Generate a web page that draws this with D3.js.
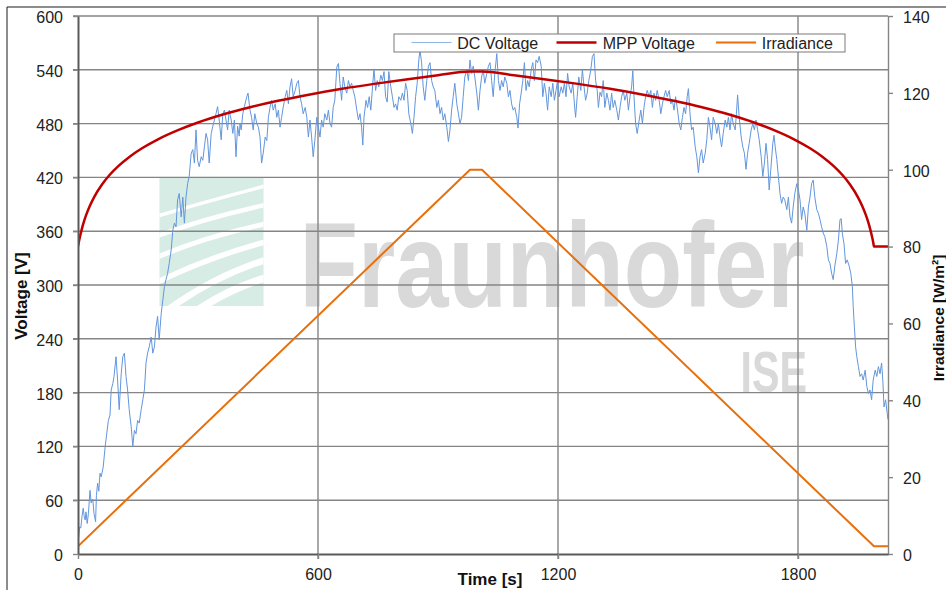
<!DOCTYPE html>
<html>
<head>
<meta charset="utf-8">
<script src="https://cdn.jsdelivr.net/npm/d3@7"></script>
<style>
  html, body { margin: 0; padding: 0; background: #fff; }
  svg { display: block; font-family: "Liberation Sans", Arial, sans-serif; }
</style>
</head>
<body>
<svg id="chart" width="946" height="590"></svg>
<script>
// ---- data ----------------------------------------------------------------
const voltTicks = [0, 60, 120, 180, 240, 300, 360, 420, 480, 540, 600];
const timeTicks = [0, 600, 1200, 1800];
const irrTicks = [0, 20, 40, 60, 80, 100, 120, 140];
const seriesNames = ["DC Voltage", "MPP Voltage", "Irradiance"];

// irradiance ramp [W/m²]
const irrTime  = [0, 980, 1010, 1990, 2025];
const irrValue = [2, 100, 100, 2, 2];

// MPP voltage [V]
const mppTime = [0, 2, 5, 10, 15, 20, 30, 40, 60, 80, 100, 130, 160, 200, 250, 300, 360, 430, 500, 580,
  660, 740, 820, 900, 980, 1010, 1090, 1170, 1250, 1330, 1410, 1490, 1560, 1630, 1690, 1740, 1790,
  1830, 1860, 1890, 1910, 1930, 1950, 1960, 1970, 1975, 1980, 1985, 1988, 1990, 2025];
const mppVolt = [343, 347.8, 354, 363.2, 370.9, 377.6, 388.7, 397.8, 412.1, 423.2, 432.3, 443.4, 452.5,
  462.5, 472.7, 481.2, 489.8, 498.2, 505.4, 512.5, 518.8, 524.3, 529.3, 533.9, 538, 538, 533.9, 529.3,
  524.3, 518.8, 512.5, 505.4, 498.2, 489.8, 481.2, 472.7, 462.5, 452.5, 443.4, 432.3, 423.2, 412.1,
  397.8, 388.7, 377.6, 370.9, 363.2, 354, 347.8, 343, 343];

// measured DC voltage [V]
const dcTime = [0, 1, 4, 7, 10, 13, 16, 18, 20, 23, 26, 30, 33, 37, 40, 44, 46, 49, 52, 55, 58, 63, 68, 72,
  76, 80, 83, 87, 90, 95, 99, 103, 108, 112, 116, 120, 124, 128, 133, 137, 141, 145, 149, 153, 158, 162,
  166, 170, 174, 178, 183, 187, 191, 195, 199, 203, 208, 212, 216, 220, 224, 228, 233, 237, 241, 245,
  249, 253, 258, 262, 266, 270, 274, 278, 283, 287, 291, 295, 299, 303, 308, 312, 316, 320, 324, 328,
  333, 337, 341, 345, 349, 353, 358, 362, 366, 370, 374, 378, 383, 387, 391, 395, 399, 403, 405, 408,
  412, 416, 422, 425, 430, 434, 438, 442, 447, 451, 455, 459, 463, 468, 472, 476, 480, 484, 488, 493,
  497, 501, 505, 509, 513, 518, 522, 526, 530, 534, 538, 543, 547, 551, 555, 559, 563, 568, 572, 576,
  580, 584, 588, 592, 597, 601, 605, 609, 613, 617, 622, 626, 630, 634, 638, 642, 647, 651, 655, 659,
  663, 667, 672, 676, 680, 684, 688, 692, 697, 701, 705, 709, 712, 715, 720, 724, 728, 732, 737, 740,
  744, 748, 752, 757, 761, 765, 769, 773, 777, 782, 786, 790, 794, 798, 802, 807, 811, 815, 819, 823,
  827, 832, 836, 840, 844, 848, 852, 855, 859, 863, 867, 872, 876, 880, 884, 888, 892, 897, 901, 905,
  909, 913, 917, 922, 926, 930, 934, 938, 942, 947, 951, 955, 959, 963, 967, 972, 976, 980, 984, 988,
  992, 997, 1001, 1005, 1009, 1013, 1017, 1022, 1026, 1030, 1034, 1038, 1042, 1047, 1051, 1055, 1059,
  1063, 1067, 1072, 1076, 1080, 1084, 1088, 1092, 1097, 1100, 1104, 1108, 1112, 1116, 1120, 1124, 1128,
  1133, 1137, 1141, 1145, 1149, 1153, 1158, 1162, 1166, 1170, 1174, 1178, 1183, 1187, 1191, 1195, 1199,
  1203, 1208, 1212, 1216, 1220, 1224, 1228, 1233, 1237, 1241, 1244, 1248, 1252, 1257, 1261, 1265, 1269,
  1273, 1277, 1282, 1286, 1290, 1294, 1298, 1301, 1305, 1309, 1313, 1317, 1322, 1326, 1330, 1334, 1338,
  1342, 1347, 1351, 1355, 1359, 1363, 1367, 1372, 1376, 1380, 1384, 1387, 1390, 1394, 1398, 1403, 1407,
  1411, 1415, 1419, 1423, 1428, 1432, 1436, 1440, 1444, 1448, 1453, 1457, 1461, 1465, 1469, 1473, 1478,
  1482, 1486, 1490, 1494, 1498, 1503, 1507, 1511, 1515, 1519, 1523, 1526, 1530, 1534, 1538, 1543, 1547,
  1551, 1555, 1559, 1563, 1568, 1572, 1576, 1580, 1584, 1588, 1593, 1597, 1601, 1605, 1609, 1613, 1618,
  1622, 1626, 1630, 1634, 1638, 1643, 1646, 1649, 1653, 1658, 1662, 1666, 1670, 1674, 1678, 1683, 1687,
  1691, 1695, 1699, 1703, 1708, 1712, 1716, 1720, 1724, 1728, 1732, 1737, 1740, 1743, 1747, 1751, 1755,
  1759, 1763, 1767, 1772, 1776, 1780, 1784, 1788, 1792, 1797, 1801, 1805, 1809, 1813, 1817, 1822, 1826,
  1830, 1834, 1838, 1842, 1847, 1851, 1855, 1859, 1863, 1867, 1872, 1876, 1880, 1884, 1888, 1892, 1897,
  1901, 1905, 1908, 1911, 1915, 1919, 1923, 1928, 1932, 1936, 1938, 1941, 1944, 1947, 1951, 1955, 1959,
  1963, 1968, 1972, 1976, 1980, 1984, 1988, 1993, 1997, 2001, 2005, 2009, 2012, 2015, 2019, 2023, 2025];
const dcVolt = [45, 16, 30, 29, 42, 51, 40, 38, 47, 34, 45, 71, 57, 61, 45, 36, 65, 79, 70, 90, 86, 97, 120,
  135, 149, 155, 183, 190, 198, 220, 194, 161, 201, 220, 224, 198, 183, 161, 142, 120, 138, 134, 149,
  146, 161, 172, 183, 213, 224, 231, 242, 224, 231, 253, 265, 239, 268, 283, 298, 306, 313, 324, 339,
  361, 369, 365, 395, 402, 376, 398, 369, 398, 413, 421, 447, 451, 436, 473, 439, 432, 443, 439, 454,
  469, 462, 436, 469, 477, 484, 491, 499, 484, 462, 491, 495, 484, 473, 495, 484, 469, 484, 443, 477,
  466, 480, 473, 491, 499, 510, 514, 495, 487, 473, 491, 480, 476, 465, 436, 447, 465, 461, 487, 498,
  506, 495, 502, 487, 495, 476, 487, 498, 510, 517, 502, 521, 530, 510, 517, 525, 528, 510, 502, 491,
  498, 487, 465, 484, 465, 443, 461, 487, 476, 465, 484, 476, 491, 484, 495, 480, 476, 498, 506, 543,
  547, 525, 506, 532, 521, 514, 528, 521, 525, 517, 510, 495, 484, 491, 476, 456, 487, 506, 498, 510,
  495, 525, 541, 517, 528, 521, 534, 528, 538, 510, 504, 538, 521, 510, 498, 502, 495, 510, 506, 514,
  506, 525, 517, 491, 480, 469, 487, 510, 525, 551, 562, 548, 521, 506, 528, 544, 548, 528, 521, 517,
  498, 506, 491, 498, 484, 491, 476, 460, 473, 495, 510, 525, 502, 491, 480, 487, 510, 532, 540, 528,
  551, 536, 544, 532, 514, 495, 517, 532, 540, 525, 536, 544, 548, 528, 510, 536, 558, 528, 517, 528,
  521, 532, 525, 510, 517, 502, 495, 498, 487, 475, 502, 514, 528, 548, 517, 528, 521, 540, 548, 528,
  551, 548, 555, 544, 510, 525, 514, 495, 521, 510, 525, 506, 517, 528, 510, 521, 514, 525, 510, 536,
  521, 514, 525, 502, 487, 510, 532, 517, 540, 521, 506, 514, 528, 540, 555, 558, 528, 517, 498, 515,
  510, 528, 498, 514, 506, 495, 514, 498, 506, 495, 484, 498, 510, 517, 506, 514, 495, 510, 521, 539,
  510, 480, 469, 484, 495, 480, 498, 510, 517, 510, 517, 498, 514, 506, 517, 506, 491, 502, 510, 517,
  510, 517, 502, 506, 495, 510, 498, 480, 473, 487, 498, 491, 510, 519, 491, 473, 476, 454, 443, 425,
  443, 451, 436, 447, 462, 487, 476, 462, 487, 480, 469, 480, 465, 454, 469, 484, 476, 487, 473, 491,
  480, 473, 491, 512, 487, 465, 454, 447, 429, 447, 458, 473, 480, 473, 484, 473, 462, 443, 421, 436,
  458, 440, 406, 429, 458, 467, 454, 440, 421, 402, 391, 398, 395, 384, 398, 376, 369, 387, 402, 413,
  406, 395, 373, 387, 380, 361, 387, 398, 413, 417, 398, 384, 380, 373, 365, 358, 354, 343, 328, 324,
  313, 306, 321, 335, 350, 373, 374, 357, 346, 324, 328, 321, 313, 298, 276, 253, 231, 220, 209, 198,
  201, 194, 205, 187, 179, 183, 172, 194, 205, 198, 209, 201, 213, 194, 164, 172, 157, 150];

// ---- layout ----------------------------------------------------------------
const plot = { left: 78, right: 888, top: 16, bottom: 554 };
const FONT = "'Liberation Sans', Arial, sans-serif";
const gridColor = "#858585";

const svg = d3.select("#chart");

const x = d3.scaleLinear().domain([0, 2025]).range([plot.left, plot.right]);
const yV = d3.scaleLinear().domain([0, 600]).range([plot.bottom, plot.top]);
const yI = d3.scaleLinear().domain([0, 140]).range([plot.bottom, plot.top]);

// outer frame (extends past the visible window on the right and bottom)
svg.append("path")
  .attr("d", "M7,600 L7,7 L960,7")
  .attr("fill", "none").attr("stroke", "#1a1a1a").attr("stroke-width", 1);

// ---- watermark ----------------------------------------------------------------
const logo = svg.append("g").attr("transform", "translate(159.5,178)");
svg.append("defs").append("clipPath").attr("id", "logoClip")
  .append("rect").attr("width", 104).attr("height", 128);
logo.append("rect").attr("width", 104).attr("height", 128).attr("fill", "#d6ece5");
const stripes = [
  ["M-2,38 Q45,24 106,8", 3.5],
  ["M-2,58 Q45,40 106,27", 4.5],
  ["M-2,79 Q48,58 106,46", 5],
  ["M-2,104 Q52,78 106,64", 5.5],
  ["M8,132 Q55,98 106,82", 6.5],
  ["M38,132 Q72,110 106,100", 7.5]
];
const sg = logo.append("g").attr("clip-path", "url(#logoClip)");
stripes.forEach(([d, w]) => {
  sg.append("path").attr("d", d).attr("fill", "none")
    .attr("stroke", "#fff").attr("stroke-width", w);
});
svg.append("text")
  .attr("x", 299.5).attr("y", 306.5)
  .attr("textLength", 505).attr("lengthAdjust", "spacingAndGlyphs")
  .attr("font-family", FONT).attr("font-size", 121).attr("font-weight", "bold")
  .attr("fill", "#d9d9d9")
  .text("Fraunhofer");
svg.append("text")
  .attr("x", 740.5).attr("y", 391.5)
  .attr("textLength", 66.5).attr("lengthAdjust", "spacingAndGlyphs")
  .attr("font-family", FONT).attr("font-size", 58).attr("font-weight", "bold")
  .attr("fill", "#d9d9d9")
  .text("ISE");

// ---- grid ----------------------------------------------------------------
const grid = svg.append("g");
grid.selectAll("line.h").data(voltTicks.filter(v => v > 0)).join("line")
  .attr("x1", plot.left - 5).attr("x2", plot.right)
  .attr("y1", d => yV(d)).attr("y2", d => yV(d))
  .attr("stroke", gridColor).attr("stroke-width", 1.4);
grid.selectAll("line.v").data(timeTicks.filter(t => t > 0)).join("line")
  .attr("x1", d => x(d)).attr("x2", d => x(d))
  .attr("y1", plot.top).attr("y2", plot.bottom + 5)
  .attr("stroke", gridColor).attr("stroke-width", 1.4);

// ---- series ----------------------------------------------------------------
const dcData = dcTime.map((t, i) => [t, dcVolt[i]]);
const mppData = mppTime.map((t, i) => [t, mppVolt[i]]);
const irrData = irrTime.map((t, i) => [t, irrValue[i]]);

svg.append("defs").append("clipPath").attr("id", "plotClip")
  .append("rect").attr("x", plot.left).attr("y", plot.top - 2)
  .attr("width", plot.right - plot.left).attr("height", plot.bottom - plot.top + 2);

const series = svg.append("g").attr("clip-path", "url(#plotClip)");
series.append("path").datum(dcData)
  .attr("d", d3.line().x(d => x(d[0])).y(d => yV(d[1])))
  .attr("fill", "none").attr("stroke", "#6296dd").attr("stroke-width", 1)
  .attr("stroke-linejoin", "round");
series.append("path").datum(mppData)
  .attr("d", d3.line().x(d => x(d[0])).y(d => yV(d[1])).curve(d3.curveMonotoneX))
  .attr("fill", "none").attr("stroke", "#c00000").attr("stroke-width", 2.5);
series.append("path").datum(irrData)
  .attr("d", d3.line().x(d => x(d[0])).y(d => yI(d[1])))
  .attr("fill", "none").attr("stroke", "#e8700c").attr("stroke-width", 2)
  .attr("stroke-linejoin", "round");

// ---- axes ----------------------------------------------------------------
function styleAxis(g, color, width) {
  g.select(".domain").attr("stroke", color).attr("stroke-width", width);
  g.selectAll(".tick line").attr("stroke", gridColor).attr("stroke-width", 1.4);
  g.selectAll(".tick text").attr("fill", "#222").attr("font-size", 16)
    .attr("font-family", FONT);
}

const leftAxis = svg.append("g").attr("transform", `translate(${plot.left},0)`)
  .call(d3.axisLeft(yV).tickValues(voltTicks).tickSize(5).tickSizeOuter(0).tickPadding(10));
styleAxis(leftAxis, "#5a5a5a", 2);
leftAxis.selectAll(".tick text").attr("dy", "0.4em");

const rightAxis = svg.append("g").attr("transform", `translate(${plot.right},0)`)
  .call(d3.axisRight(yI).tickValues(irrTicks).tickSize(5).tickSizeOuter(0).tickPadding(10));
styleAxis(rightAxis, gridColor, 1.4);
rightAxis.selectAll(".tick text").attr("dy", "0.4em");

const bottomAxis = svg.append("g").attr("transform", `translate(0,${plot.bottom})`)
  .call(d3.axisBottom(x).tickValues(timeTicks).tickSize(5).tickSizeOuter(0).tickPadding(9.5)
    .tickFormat(d3.format("d")));
styleAxis(bottomAxis, "#5a5a5a", 2);

// axis titles
svg.append("text")
  .attr("transform", "translate(27,296) rotate(-90)")
  .attr("text-anchor", "middle").attr("font-family", FONT)
  .attr("font-size", 17).attr("font-weight", "bold").attr("fill", "#111")
  .text("Voltage [V]");
svg.append("text")
  .attr("x", 490).attr("y", 585)
  .attr("text-anchor", "middle").attr("font-family", FONT)
  .attr("font-size", 17).attr("font-weight", "bold").attr("fill", "#111")
  .text("Time [s]");
svg.append("text")
  .attr("transform", "translate(944,318) rotate(-90)")
  .attr("text-anchor", "middle").attr("font-family", FONT)
  .attr("font-size", 15.5).attr("font-weight", "bold").attr("fill", "#111")
  .text("Irradiance [W/m²]");

// ---- legend ----------------------------------------------------------------
const legend = svg.append("g");
legend.append("rect")
  .attr("x", 394).attr("y", 34).attr("width", 451).attr("height", 18)
  .attr("fill", "#fff").attr("stroke", "#7a7a7a").attr("stroke-width", 1);
const legendItems = [
  { name: seriesNames[0], color: "#8fb4e6", width: 1.2, x0: 411.5, tx: 457.3 },
  { name: seriesNames[1], color: "#c00000", width: 2.5, x0: 556.5, tx: 602.7 },
  { name: seriesNames[2], color: "#e8700c", width: 2, x0: 716, tx: 761.7 }
];
legendItems.forEach(it => {
  legend.append("line")
    .attr("x1", it.x0).attr("x2", it.x0 + 40).attr("y1", 42.5).attr("y2", 42.5)
    .attr("stroke", it.color).attr("stroke-width", it.width);
  legend.append("text")
    .attr("x", it.tx).attr("y", 48.5)
    .attr("font-family", FONT).attr("font-size", 16).attr("fill", "#222")
    .text(it.name);
});
</script>
</body>
</html>
